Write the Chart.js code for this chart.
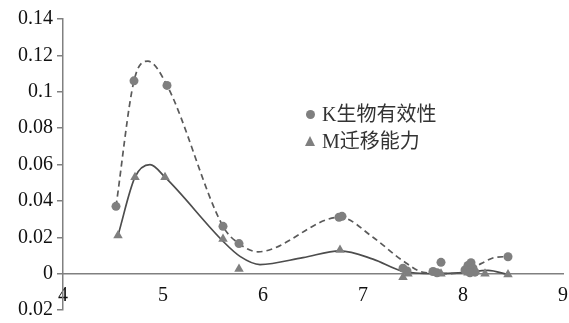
<!DOCTYPE html>
<html><head><meta charset="utf-8">
<script src="https://cdn.jsdelivr.net/npm/chart.js@4/dist/chart.umd.min.js"></script>
<style>
html,body{margin:0;padding:0;background:#fff;}
#wrap{position:relative;width:569px;height:323px;}
.lg{position:absolute;left:305px;height:24px;line-height:24px;font-size:20px;font-family:"Liberation Serif","Noto Sans CJK SC",serif;color:#333;white-space:nowrap;}
.lg .txt{position:absolute;left:17px;top:0;}
.dot{position:absolute;left:1px;top:7.5px;width:9px;height:9px;border-radius:50%;background:#7f7f7f;}
.tri{position:absolute;left:0px;top:7px;width:0;height:0;border-left:5.5px solid transparent;border-right:5.5px solid transparent;border-bottom:10px solid #7f7f7f;}
</style></head>
<body>
<div id="wrap">
<canvas id="c" width="569" height="323"></canvas>
<div class="lg" style="top:102px"><span class="dot"></span><span class="txt">K生物有效性</span></div>
<div class="lg" style="top:129px"><span class="tri"></span><span class="txt">M迁移能力</span></div>
</div>
<script>
// K bioavailability points
const kX = [4.53, 4.71, 5.04, 5.60, 5.76, 6.76, 6.79, 7.40, 7.44, 7.70, 7.74, 7.78, 8.02, 8.05, 8.08, 8.10, 8.12, 8.07, 8.45];
const kY = [0.037, 0.106, 0.1035, 0.026, 0.0165, 0.031, 0.0315, 0.003, 0.0015, 0.0012, 0.0005, 0.0062, 0.002, 0.0045, 0.006, 0.003, 0.0008, 0.0005, 0.0093];
// M migration points
const mX = [4.55, 4.72, 5.02, 5.60, 5.76, 6.77, 7.40, 7.45, 7.72, 7.78, 8.05, 8.10, 8.22, 8.45];
const mY = [0.021, 0.053, 0.053, 0.019, 0.0025, 0.013, -0.002, 0.0, 0.0005, 0.0, 0.0005, 0.001, 0.0, -0.0005];
// Smoothed trend curves
const kCurveX = [4.53, 4.71, 4.85, 5.04, 5.60, 5.76, 5.95, 6.77, 7.10, 7.40, 7.62, 7.85, 8.05, 8.18, 8.34, 8.45];
const kCurveY = [0.037, 0.106, 0.1168, 0.1035, 0.026, 0.0165, 0.012, 0.031, 0.020, 0.007, 0.0005, 0.0, 0.0015, 0.0055, 0.0091, 0.0093];
const mCurveX = [4.55, 4.72, 4.87, 5.02, 5.60, 5.77, 5.97, 6.40, 6.77, 7.10, 7.40, 7.70, 8.00, 8.25, 8.45];
const mCurveY = [0.021, 0.053, 0.0599, 0.053, 0.0178, 0.0095, 0.005, 0.0088, 0.0125, 0.008, 0.0013, 0.0, 0.0005, 0.0018, -0.0005];
const xTickLabels = ['4', '5', '6', '7', '8', '9'];
const yTickLabels = ['0.02', '0', '0.02', '0.04', '0.06', '0.08', '0.1', '0.12', '0.14'];

const pts = (xs, ys) => xs.map((x, i) => ({x: x, y: ys[i]}));
const FONT = 'Liberation Serif';
const noPad = (s) => { s.paddingLeft = 0; s.paddingRight = 0; s.paddingTop = 0; s.paddingBottom = 0; };

new Chart(document.getElementById('c'), {
  type: 'scatter',
  data: {
    datasets: [
      {label: 'K生物有效性', data: pts(kX, kY), pointStyle: 'circle', pointRadius: 4.5,
       backgroundColor: '#7f7f7f', borderColor: '#7f7f7f', borderWidth: 0, order: 1},
      {label: 'M迁移能力', data: pts(mX, mY), pointStyle: 'triangle', pointRadius: 5.5,
       backgroundColor: '#7f7f7f', borderColor: '#7f7f7f', borderWidth: 0, order: 1},
      {type: 'line', label: 'Kcurve', data: pts(kCurveX, kCurveY), showLine: true, pointRadius: 0,
       borderColor: '#5a5a5a', borderWidth: 1.7, borderDash: [6, 4], cubicInterpolationMode: 'monotone', fill: false, order: 2},
      {type: 'line', label: 'Mcurve', data: pts(mCurveX, mCurveY), showLine: true, pointRadius: 0,
       borderColor: '#4d4d4d', borderWidth: 1.7, cubicInterpolationMode: 'monotone', fill: false, order: 2}
    ]
  },
  options: {
    responsive: false, animation: false,
    layout: {padding: {top: 19, right: 6, bottom: 13, left: 0}},
    plugins: {legend: {display: false}, tooltip: {enabled: false}},
    scales: {
      x: {
        type: 'linear', position: {y: 0}, min: 4, max: 9,
        ticks: {stepSize: 1, padding: 10, color: '#111', font: {family: FONT, size: 20},
                callback: (v, i) => xTickLabels[i]},
        grid: {display: true, drawOnChartArea: false, drawTicks: false},
        border: {display: true, color: '#808080', width: 1.5},
        afterFit: noPad
      },
      y: {
        type: 'linear', min: -0.02, max: 0.14,
        ticks: {stepSize: 0.02, padding: 4, color: '#111', font: {family: FONT, size: 20},
                callback: (v, i) => yTickLabels[i]},
        grid: {display: true, drawOnChartArea: false, drawTicks: true, tickLength: 6, color: '#808080', lineWidth: 1.5},
        border: {display: true, color: '#808080', width: 1.5},
        afterFit: (s) => { s.width = 63; noPad(s); }
      }
    }
  }
});
</script>
</body></html>
